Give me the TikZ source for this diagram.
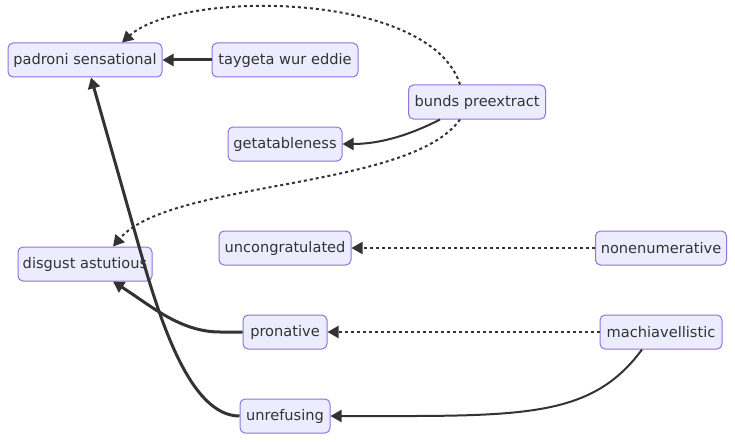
\documentclass[tikz,border=0pt]{standalone}
\usepackage{fontspec}
\setmainfont{DejaVu Sans}
\usetikzlibrary{arrows.meta}
\definecolor{nodefill}{HTML}{ECECFF}
\definecolor{nodeborder}{HTML}{9370DB}
\definecolor{edgecol}{HTML}{333333}
\begin{document}
\begin{tikzpicture}[x=1pt,y=-1pt,
  box/.style={draw=nodeborder, fill=nodefill, line width=1pt, rounded corners=5pt,
    minimum height=34pt, inner sep=0pt, text=edgecol, font=\fontsize{14.6pt}{17pt}\selectfont},
  tip/.style={-{Triangle[length=11pt,width=12pt]}},
  thickedge/.style={tip, draw=edgecol, line width=3pt},
  normedge/.style={tip, draw=edgecol, line width=2pt},
  dotedge/.style={tip, draw=edgecol, line width=2pt, dash pattern=on 3pt off 3pt}]
\useasboundingbox (0,0) rectangle (735,441);
\node[box, minimum width=154pt] (pad) at (85,60) {padroni sensational};
\node[box, minimum width=146pt] (tay) at (285,60) {taygeta wur eddie};
\node[box, minimum width=137pt] (bun) at (477,102) {bunds preextract};
\node[box, minimum width=114pt] (get) at (285,144) {getatableness};
\node[box, minimum width=134pt] (dis) at (85,264) {disgust astutious};
\node[box, minimum width=132pt] (unc) at (285,248) {uncongratulated};
\node[box, minimum width=131pt] (non) at (661,248) {nonenumerative};
\node[box, minimum width=84pt] (pro) at (285,332) {pronative};
\node[box, minimum width=122pt] (mac) at (661,332) {machiavellistic};
\node[box, minimum width=90pt] (unr) at (285,416) {unrefusing};

\draw[thickedge] (tay.west) -- (pad.east);
\draw[dotedge] ([xshift=-17pt]bun.north) .. controls (430,-10) and (180,-10) .. ([xshift=37pt]pad.north);
\draw[normedge] ([xshift=-37pt]bun.south) .. controls (410,135) and (380,144) .. (get.east);
\draw[dotedge] ([xshift=-17pt]bun.south) .. controls (410,190) and (170,180) .. ([xshift=28pt]dis.north);
\draw[dotedge] (non.west) -- (unc.east);
\draw[dotedge] (mac.west) -- (pro.east);
\draw[normedge] ([xshift=-19pt]mac.south) .. controls (590,420) and (520,416) .. (unr.east);
\draw[thickedge] (pro.west) -- (220,332) .. controls (180,332) and (150,305) .. ([xshift=28pt]dis.south);
\draw[thickedge] (unr.west) .. controls (190,416) and (160,320) .. (140,250) -- ([xshift=6pt]pad.south);
\end{tikzpicture}
\end{document}
